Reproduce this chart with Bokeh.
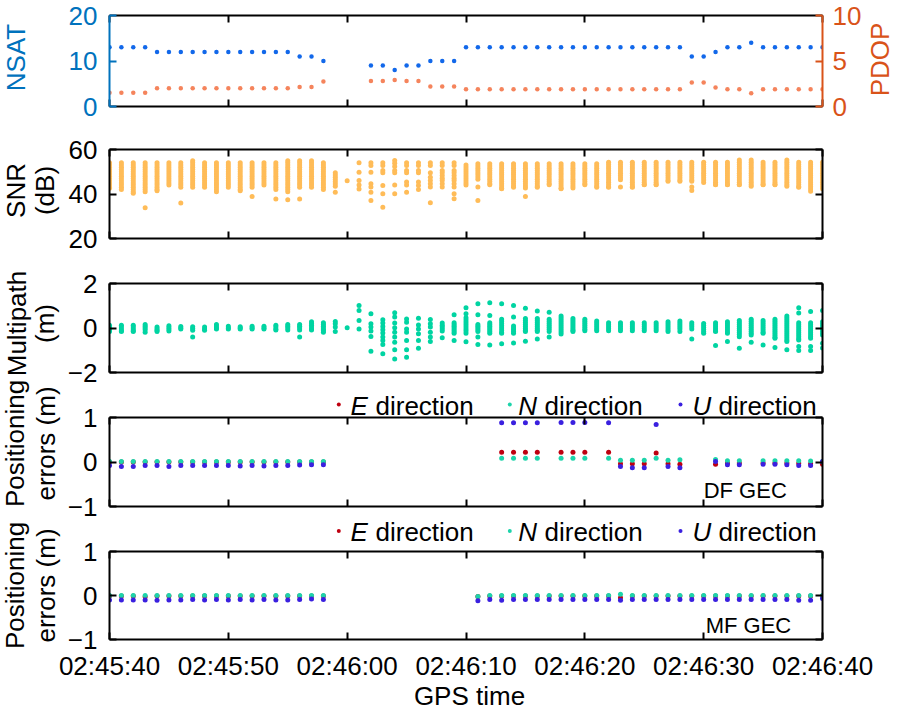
import math
from bokeh.plotting import figure
from bokeh.layouts import column
from bokeh.models import Range1d, LinearAxis, FixedTicker, Label, GridBox
from bokeh.core.properties import value
from bokeh.embed import file_html
from bokeh.resources import INLINE

FONT = "Liberation Sans"
BLUE_AX = "#0072BD"
ORANGE_AX = "#D95319"
NSAT_COLOR = "#1268EA"
PDOP_COLOR = "#F5845C"
SNR_COLOR = "#FFBC58"
MP_COLOR = "#00D4A2"
E_COLOR = "#BF0010"
N_COLOR = "#1DD4AA"
U_COLOR = "#3A20DF"

# ---------------- data ----------------
X_TICKS = [0, 10, 20, 30, 40, 50, 60]   # seconds after 02:45:40
X_TICK_LABELS = ["02:45:40", "02:45:50", "02:46:00", "02:46:10",
                 "02:46:20", "02:46:30", "02:46:40"]

NSAT_TICKS = [0, 10, 20]
PDOP_TICKS = [0, 5, 10]
SNR_TICKS = [20, 40, 60]
MP_TICKS = [-2, 0, 2]
MP_TICK_LABELS = ["\u22122", "0", "2"]
POS_TICKS = [-1, 0, 1]
POS_TICK_LABELS = ["\u22121", "0", "1"]

NSAT_T = [0, 1, 2, 3, 4, 5, 6, 7, 8, 9, 10, 11, 12, 13, 14, 15, 16, 17, 18,
          22, 23, 24, 25, 26, 27, 28, 29, 30, 31, 32, 33, 34, 35, 36, 37, 38,
          39, 40, 41, 42, 43, 44, 45, 46, 47, 48, 49, 50, 51, 52, 53, 54, 55,
          56, 57, 58, 59, 60]
NSAT = [13, 13, 13, 13, 12, 12, 12, 12, 12, 12, 12, 12, 12, 12, 12, 12, 11, 11, 10,
        9, 9, 8, 9, 9, 10, 10, 10, 13, 13, 13, 13, 13, 13, 13, 13, 13,
        13, 13, 13, 13, 13, 13, 13, 13, 13, 13, 11, 11, 12, 13, 13, 14, 13,
        13, 13, 13, 13, 13]
PDOP = [1.5, 1.5, 1.5, 1.5, 2.0, 2.0, 2.0, 2.0, 2.0, 2.0, 2.0, 2.0, 2.0, 2.0, 2.0, 2.0, 2.15, 2.15, 2.75,
        2.8, 2.8, 2.9, 2.8, 2.8, 2.2, 2.2, 2.2, 1.9, 1.9, 1.9, 1.9, 1.9, 1.9, 1.9, 1.9, 1.9,
        1.9, 1.9, 1.9, 1.9, 1.9, 1.9, 1.9, 1.9, 1.9, 1.9, 2.65, 2.65, 2.1, 1.9, 1.9, 1.45, 1.9,
        1.9, 1.9, 1.9, 1.9, 1.9]

EPOCH_T = [0, 1, 2, 3, 4, 5, 6, 7, 8, 9, 10, 11, 12, 13, 14, 15, 16, 17, 18, 19, 20,
           21, 22, 23, 24, 25, 26, 27, 28, 29, 30, 31, 32, 33, 34, 35, 36, 37, 38, 39, 40,
           41, 42, 43, 44, 45, 46, 47, 48, 49, 50, 51, 52, 53, 54, 55, 56, 57, 58, 59, 60]

# SNR (dB) of all tracked signals, one string per epoch
SNR_DB = [
    "54 53 52 51 50 49 48 47 46 45 44 43 42.6",
    "54 53 52 51 50 49 48 47 46 45 44 43 42",
    "54 53 52 51 50 49 48 47 46 45 44 43 42 41 40.3",
    "54 53 52 51 50 49 48 47 46 45 44 43 42 41 33.8",
    "54 53 52 51 50 49 48 47 46 45 44 43 42 41.5",
    "54 53 52 51 50 49 48 47 46 45 44",
    "54 53 52 51 50 49 48 47 46 45 44 43 35.9",
    "55 54 53 52 51 50 49 48 47 46 45 44 43",
    "54 53 52 51 50 49 48 47 46 45 44 43",
    "54 53 52 51 50 49 48 47 46 45 44 43 42 41",
    "54 53 52 51 50 49 48 47 46 45 44 43",
    "54 53 52 51 50 49 48 47 46 45 44 43 42 41.5",
    "54 53 52 51 50 49 48 47 46 45 44 43 38.9",
    "54 53 52 51 50 49 48 47 46 45 44",
    "54 53 52 51 50 49 48 47 46 45 44 43 42 37.8",
    "55 54 53 52 51 50 49 48 47 46 45 44 43 42 41 37.4",
    "55 54 53 52 51 50 49 48 47 46 45 44 43 37.8",
    "55 54 53 52 51 50 49 48 47 46 45 44 43",
    "54 53 52 51 50 49 48 47 46 45 44 43 42",
    "49.5 48.5 47.5 46.5 45.5 44.5 43.5 40.8",
    "45.9",
    "54.0 49.8 46.1 44.1 42.3",
    "54.0 52.8 49.8 44.6 43.1 40.8 37.1",
    "54.0 52.8 50.6 49.5 43.8 40.1 34.1",
    "55.1 53.8 52.4 50.6 49.5 44.1 40.1",
    "54.0 52.8 50.6 49.5 45.4 44.1 40.8",
    "54.0 52.8 50.6 49.5 45.4 43.8 42.0",
    "54.0 52.8 49.5 47.5 46.1 44.6 43.1 36.1",
    "54.0 52.8 50.6 49.5 48.3 47.1 46.1 44.6 43.1",
    "54.0 52.8 50.6 49.5 48.3 47.1 46.1 44.6 43.1 40.1 37.9",
    "53 52 51 50 49 48 47 46 45 44",
    "53.6 52.6 51.6 50.6 49.6 48.6 47.6 46.6 43.1 37.1",
    "53.6 52.6 51.6 50.6 49.6 48.6 47.6 46.6 45.6 44.6 44.2",
    "53.6 52.6 51.6 50.6 49.6 48.6 47.6 46.6 45.6 44.6 43.6 42.6 42.4",
    "53.6 52.6 51.6 50.6 49.6 48.6 47.6 46.6 45.6 44.6 43.6 43.0",
    "53.6 52.6 51.6 50.6 49.6 48.6 47.6 46.6 45.6 44.6 43.6 42.7 38.9",
    "53.6 52.6 51.6 50.6 49.6 48.6 47.6 46.6 45.6 44.6 43.6 43.0",
    "53.6 52.6 51.6 50.6 49.6 48.6 47.6 46.6 45.6 44.6 44.2",
    "53.6 52.6 51.6 50.6 49.6 48.6 47.6 46.6 45.6 44.6 43.6 42.6 42.4",
    "53.6 52.6 51.6 50.6 49.6 48.6 47.6 46.6 45.6 44.6 43.6 42.7",
    "53.6 52.6 51.6 50.6 49.6 48.6 47.6 46.6 45.6 44.6 44.2",
    "53.6 52.6 51.6 50.6 49.6 48.6 47.6 46.6 45.6 44.6 43.6 43.0",
    "54.3 53.3 52.3 51.3 50.3 49.3 48.3 47.3 46.3 45.3 44.3 43.3 43.0",
    "54.3 53.3 52.3 51.3 50.3 49.3 48.3 47.3 46.4 43.1",
    "54.3 53.3 52.3 51.3 50.3 49.3 48.3 47.3 46.3 45.3 44.3 43.3 43.0",
    "54.3 53.3 52.3 51.3 50.3 49.3 48.3 47.3 46.3 45.3 44.3 44.2",
    "54.3 53.3 52.3 51.3 50.3 49.3 48.3 47.3 46.3 45.3 44.3 44.2",
    "54.3 53.3 52.3 51.3 50.3 49.3 48.3 47.3 46.3 45.7",
    "54.3 53.3 52.3 51.3 50.3 49.3 48.3 47.3 46.3 45.7",
    "54.3 53.3 52.3 51.3 50.3 49.3 48.3 47.3 46.3 45.7 43.1 41.6",
    "54.3 53.3 52.3 51.3 50.3 49.3 48.3 47.3 46.3 45.2",
    "54.3 53.3 52.3 51.3 50.3 49.3 48.3 47.3 46.3 45.3 44.3 44.2",
    "54.3 53.3 52.3 51.3 50.3 49.3 48.3 47.3 46.3 45.3 44.3 44.2",
    "55.3 54.3 53.3 52.3 51.3 50.3 49.3 48.3 47.3 46.3 45.3 44.3 44.2",
    "55.3 54.3 53.3 52.3 51.3 50.3 49.3 48.3 47.3 46.3 45.3 44.3 43.5",
    "54.3 53.3 52.3 51.3 50.3 49.3 48.3 47.3 46.3 45.3 44.3 44.2",
    "54.3 53.3 52.3 51.3 50.3 49.3 48.3 47.3 46.3 45.3 44.3 44.2",
    "55.3 54.3 53.3 52.3 51.3 50.3 49.3 48.3 47.3 46.3 45.3 44.3 43.5",
    "54.3 53.3 52.3 51.3 50.3 49.3 48.3 47.3 46.3 45.3 44.3 43.3 43.0",
    "54.3 53.3 52.3 51.3 50.3 49.3 48.3 47.3 46.3 45.3 44.3 43.3 42.3 41.2",
    "54.3 53.3 52.3 51.3 50.3 49.3 48.3 47.3 46.3 45.3 44.3 43.3 42.4",
]

# Multipath (m) of all tracked signals, one string per epoch
MP_M = [
    "0.12 0.05 -0.02 -0.09 -0.16",
    "0.12 0.04 -0.04 -0.12 -0.16",
    "0.12 0.04 -0.04 -0.12 -0.16",
    "0.16 0.08 0.0 -0.08 -0.19",
    "0.05 -0.03 -0.1 -0.16",
    "0.1 0.02 -0.06 -0.14",
    "0.07 0.0 -0.05",
    "0.06 -0.02 -0.1 -0.41",
    "0.04 -0.04 -0.1",
    "0.16 0.08 0.0 -0.04",
    "0.08 0.0 -0.04",
    "0.06 0.0 -0.04",
    "0.08 0.0 -0.04",
    "0.08 0.0 -0.04",
    "0.12 0.04 -0.04 -0.09",
    "0.16 0.08 0.0 -0.09",
    "0.16 0.08 0.0 -0.09 -0.41",
    "0.28 0.2 0.12 0.04 -0.04 -0.09",
    "0.24 0.16 0.08 0.0 -0.08 -0.12 -0.19",
    "0.29 0.19 0.04 -0.16",
    "0.01",
    "1.01 0.79 0.34 -0.04",
    "0.64 0.19 0.04 -0.14 -0.38 -1.04",
    "0.37 0.22 0.07 -0.08 -0.23 -0.41 -0.56 -0.74 -1.16",
    "0.68 0.49 0.22 0.01 -0.19 -0.41 -0.64 -0.98 -1.39",
    "0.41 0.26 -0.04 -0.19 -0.56 -0.98 -1.31",
    "0.44 0.14 -0.04 -0.26 -0.56 -0.91",
    "0.38 0.19 0.04 -0.19 -0.41 -0.61",
    "0.22 0.12 0.04 -0.05 -0.14 -0.44",
    "0.59 0.24 0.16 0.08 0.0 -0.08 -0.16 -0.24 -0.56",
    "0.91 0.64 0.46 0.36 0.26 0.16 0.06 -0.04 -0.14 -0.24 -0.62",
    "1.09 0.59 0.16 0.08 0.0 -0.08 -0.16 -0.41 -0.74",
    "1.13 0.56 0.24 0.16 0.08 0.0 -0.08 -0.16 -0.24 -0.76",
    "1.09 0.39 0.3 0.2 0.1 0.0 -0.1 -0.2 -0.24 -0.71",
    "1.01 0.49 0.09 0.0 -0.08 -0.16 -0.24 -0.67",
    "0.89 0.43 0.34 0.25 0.16 0.07 -0.02 -0.1 -0.16 -0.59",
    "0.76 0.43 0.34 0.25 0.16 0.07 -0.02 -0.1 -0.16 -0.49",
    "0.71 0.39 0.3 0.21 0.12 0.03 -0.06 -0.16 -0.41",
    "0.54 0.45 0.36 0.27 0.18 0.09 0.0 -0.09 -0.18 -0.27",
    "0.43 0.34 0.25 0.16 0.07 -0.02 -0.1 -0.16",
    "0.39 0.3 0.21 0.12 0.03 -0.06 -0.12",
    "0.31 0.22 0.13 0.04 -0.05 -0.12",
    "0.24 0.15 0.06 -0.03 -0.12",
    "0.24 0.15 0.06 -0.03 -0.12",
    "0.24 0.15 0.06 -0.03 -0.12",
    "0.24 0.15 0.06 -0.03 -0.12",
    "0.24 0.15 0.06 -0.03 -0.12",
    "0.28 0.19 0.1 0.01 -0.08 -0.16",
    "0.31 0.22 0.13 0.04 -0.05 -0.16",
    "0.24 0.15 0.06 -0.04 -0.49",
    "0.2 0.11 0.02 -0.07 -0.16 -0.24",
    "0.24 0.15 0.06 -0.03 -0.12 -0.16 -0.79",
    "0.28 0.19 0.1 0.01 -0.08 -0.17 -0.24 -0.61",
    "0.34 0.25 0.16 0.07 -0.02 -0.11 -0.2 -0.29 -0.39 -0.91",
    "0.39 0.3 0.21 0.12 0.03 -0.06 -0.15 -0.24 -0.31 -0.64",
    "0.34 0.25 0.16 0.07 -0.02 -0.11 -0.2 -0.24 -0.76",
    "0.39 0.3 0.21 0.12 0.03 -0.06 -0.15 -0.24 -0.33 -0.42 -0.46 -0.88",
    "0.54 0.45 0.36 0.27 0.18 0.09 0.0 -0.09 -0.18 -0.27 -0.36 -0.45 -0.54 -0.61 -0.98",
    "0.91 0.67 0.24 0.15 0.06 -0.03 -0.12 -0.21 -0.3 -0.39 -0.48 -0.54 -0.83 -1.01",
    "0.74 0.24 0.15 0.06 -0.03 -0.12 -0.21 -0.3 -0.39 -0.46 -0.83 -1.01",
    "0.79 0.28 0.19 0.1 0.01 -0.08 -0.17 -0.26 -0.31 -0.69 -0.9",
]

# Positioning errors, DF GEC
DF_T = [0, 1, 2, 3, 4, 5, 6, 7, 8, 9, 10, 11, 12, 13, 14, 15, 16, 17, 18,
        33, 34, 35, 36, 38, 39, 40, 42, 43, 44, 45, 46, 47, 48, 51, 52, 53,
        55, 56, 57, 58, 59, 60]
DF_E = [0.0, 0.0, 0.0, 0.0, 0.0, 0.0, 0.0, 0.0, 0.0, 0.0, 0.0, 0.0, 0.0, 0.0, 0.0, 0.0, 0.0, 0.0, 0.0,
        0.22, 0.22, 0.22, 0.22, 0.22, 0.22, 0.22, 0.22, -0.04, -0.04, -0.04, 0.20, -0.04, -0.05, -0.05, -0.02, -0.02,
        -0.02, -0.02, -0.02, -0.03, -0.04, -0.05]
DF_N = [0.01, 0.01, 0.01, 0.01, 0.01, 0.01, 0.01, 0.01, 0.01, 0.01, 0.01, 0.01, 0.01, 0.01, 0.01, 0.01, 0.01, 0.01, 0.01,
        0.085, 0.085, 0.085, 0.085, 0.085, 0.085, 0.085, 0.085, 0.04, 0.04, 0.04, 0.085, 0.04, 0.05, 0.055, 0.03, 0.03,
        0.03, 0.03, 0.03, 0.03, 0.025, 0.01]
DF_U = [-0.08, -0.10, -0.10, -0.08, -0.08, -0.10, -0.08, -0.08, -0.08, -0.08, -0.08, -0.09, -0.08, -0.09, -0.08, -0.08, -0.07, -0.06, -0.06,
        0.88, 0.88, 0.88, 0.88, 0.89, 0.89, 0.89, 0.88, -0.10, -0.13, -0.13, 0.84, -0.10, -0.13, 0.01, -0.06, -0.06,
        -0.05, -0.05, -0.06, -0.08, -0.08, 0.01]

# Positioning errors, MF GEC
MF_T = [0, 1, 2, 3, 4, 5, 6, 7, 8, 9, 10, 11, 12, 13, 14, 15, 16, 17, 18,
        31, 32, 33, 34, 35, 36, 37, 38, 39, 40, 41, 42, 43, 44, 45, 46, 47, 48,
        49, 50, 51, 52, 53, 54, 55, 56, 57, 58, 59, 60]
MF_E = [-0.01, -0.01, -0.01, -0.03, -0.01, -0.01, -0.01, -0.01, -0.01, -0.01, -0.01, -0.01, -0.01, -0.01, -0.01, -0.01, -0.01, -0.01, -0.01,
        -0.02, -0.01, -0.01, -0.01, -0.01, -0.01, -0.01, -0.01, -0.01, -0.01, -0.01, -0.01, -0.05, -0.01, -0.01, -0.01, -0.01, -0.01,
        -0.01, -0.01, -0.01, -0.01, -0.01, -0.01, -0.01, -0.01, -0.01, -0.01, -0.01, -0.01]
MF_N = [0.0, 0.0, 0.0, 0.0, 0.0, 0.0, 0.0, 0.0, 0.0, 0.0, 0.0, 0.0, 0.0, 0.0, 0.0, 0.0, 0.0, 0.0, 0.0,
        -0.02, 0.0, 0.0, 0.0, 0.0, 0.0, 0.0, 0.0, 0.0, 0.0, 0.0, 0.0, 0.03, 0.0, 0.0, 0.0, 0.0, 0.0,
        0.0, 0.0, 0.0, 0.0, 0.0, 0.0, 0.0, 0.0, 0.0, 0.0, 0.0, 0.0]
MF_U = [-0.10, -0.10, -0.10, -0.10, -0.11, -0.10, -0.10, -0.09, -0.10, -0.09, -0.10, -0.09, -0.10, -0.09, -0.10, -0.10, -0.09, -0.08, -0.09,
        -0.12, -0.09, -0.11, -0.09, -0.09, -0.09, -0.09, -0.09, -0.09, -0.09, -0.09, -0.09, -0.11, -0.09, -0.09, -0.09, -0.09, -0.09,
        -0.09, -0.09, -0.09, -0.09, -0.09, -0.09, -0.09, -0.09, -0.09, -0.11, -0.11, -0.07]

LEGEND_NAMES = ["E", "N", "U"]
LEGEND_COLORS = [E_COLOR, N_COLOR, U_COLOR]

# ---------------- layout helpers ----------------
W, H = 898, 716
FRAME_W = 713
LEFT, RIGHT = 109, 76
FS = "26px"


def flatten(times, strings):
    xs, ys = [], []
    for t, s in zip(times, strings):
        for v in s.split():
            xs.append(t)
            ys.append(float(v))
    return xs, ys


def style_axis(ax, ticks, labels=None, color="black", show=True, standoff=12):
    ax.ticker = FixedTicker(ticks=ticks)
    if labels is not None:
        ax.major_label_overrides = {t: s for t, s in zip(ticks, labels)}
    ax.major_tick_in = 7
    ax.major_tick_out = 0
    ax.minor_tick_line_color = None
    ax.axis_line_color = color
    ax.axis_line_width = 2
    ax.major_tick_line_color = color
    ax.major_tick_line_width = 2
    ax.major_label_text_font = FONT
    if show:
        ax.major_label_text_color = color
        ax.major_label_text_font_size = FS
        ax.major_label_standoff = standoff
    else:
        ax.major_label_text_color = None
        ax.major_label_text_font_size = "1px"
        ax.major_label_standoff = 0


def make_panel(y0, y1, yticks, ylabels, fh, top, bottom, show_x=False, left_color="black",
               mirror_right=True):
    p = figure(frame_width=FRAME_W, frame_height=fh,
               x_range=Range1d(0, 60), y_range=Range1d(y0, y1),
               min_border_left=LEFT, min_border_right=RIGHT,
               min_border_top=top, min_border_bottom=bottom,
               output_backend="svg", toolbar_location=None, tools="")
    p.grid.visible = False
    p.outline_line_color = None
    style_axis(p.xaxis[0], X_TICKS, X_TICK_LABELS, show=show_x, standoff=11)
    style_axis(p.yaxis[0], yticks, ylabels, color=left_color, standoff=12)
    top_ax = LinearAxis()
    style_axis(top_ax, X_TICKS, show=False)
    p.add_layout(top_ax, "above")
    if mirror_right:
        r_ax = LinearAxis()
        style_axis(r_ax, yticks, show=False)
        p.add_layout(r_ax, "right")
    return p


def corner_label(p, text, x, y_off):
    p.add_layout(Label(x=x, y=-1, y_offset=y_off, text=text, text_baseline="middle",
                       text_font=FONT, text_font_size="22px", text_color="black"))


# ---------------- panel 1: NSAT / PDOP ----------------
p1 = make_panel(0, 20, NSAT_TICKS, None, 91, 15, 21, left_color=BLUE_AX, mirror_right=False)
p1.extra_y_ranges = {"pdop": Range1d(0, 10)}
pd_ax = LinearAxis(y_range_name="pdop")
style_axis(pd_ax, PDOP_TICKS, color=ORANGE_AX, standoff=10)
p1.add_layout(pd_ax, "right")
p1.scatter(NSAT_T, NSAT, size=4.5, color=NSAT_COLOR, line_width=0)
p1.scatter(NSAT_T, PDOP, size=4.5, color=PDOP_COLOR, line_width=0, y_range_name="pdop")

# ---------------- panel 2: SNR ----------------
p2 = make_panel(20, 60, SNR_TICKS, None, 89, 22, 22)
sx, sy = flatten(EPOCH_T, SNR_DB)
p2.scatter(sx, sy, size=5, color=SNR_COLOR, line_width=0)

# ---------------- panel 3: Multipath ----------------
p3 = make_panel(-2, 2, MP_TICKS, MP_TICK_LABELS, 89, 23, 22)
mx, my = flatten(EPOCH_T, MP_M)
p3.scatter(mx, my, size=5, color=MP_COLOR, line_width=0)

# ---------------- panel 4: DF GEC ----------------
p4 = make_panel(-1, 1, POS_TICKS, POS_TICK_LABELS, 89, 23, 22)
p4.scatter(DF_T, DF_E, size=5, color=E_COLOR, line_width=0)
p4.scatter(DF_T, DF_N, size=5, color=N_COLOR, line_width=0)
p4.scatter(DF_T, DF_U, size=5, color=U_COLOR, line_width=0)
corner_label(p4, "DF GEC", 50.0, 16)

# ---------------- panel 5: MF GEC ----------------
p5 = make_panel(-1, 1, POS_TICKS, POS_TICK_LABELS, 88, 23, 77, show_x=True)
p5.scatter(MF_T, MF_E, size=5, color=E_COLOR, line_width=0)
p5.scatter(MF_T, MF_N, size=5, color=N_COLOR, line_width=0)
p5.scatter(MF_T, MF_U, size=5, color=U_COLOR, line_width=0)
corner_label(p5, "MF GEC", 50.17, 14)

panels = column(p1, p2, p3, p4, p5, spacing=0)

# ---------------- overlay for texts that sit outside the plot frames ----------------
ov = figure(width=W, height=H, x_range=Range1d(0, W), y_range=Range1d(H, 0),
            min_border=0, x_axis_type=None, y_axis_type=None,
            output_backend="svg", toolbar_location=None, tools="")
ov.grid.visible = False
ov.outline_line_color = None
ov.background_fill_color = None
ov.border_fill_color = None

# axis titles (page pixel positions)
ROT_TEXT = ["NSAT", "SNR", "(dB)", "Multipath", "(m)", "Positioning", "errors (m)",
            "Positioning", "errors (m)", "PDOP"]
ROT_X = [15.5, 15, 44, 16, 44.5, 14, 45, 14, 45, 879]
ROT_Y = [57, 190, 190, 323, 323, 443, 443, 585, 585, 59]
ROT_C = [BLUE_AX, "black", "black", "black", "black", "black", "black", "black", "black", ORANGE_AX]
ov.text(x=ROT_X, y=ROT_Y, text=ROT_TEXT, angle=math.pi / 2, text_color=ROT_C,
        text_align="center", text_baseline="middle",
        text_font=value(FONT), text_font_size=value(FS))
ov.text(x=[469], y=[695], text=["GPS time"], text_align="center", text_baseline="middle",
        text_font=value(FONT), text_font_size=value(FS), text_color="black")

# legends above panels 4 and 5
for yc in (405, 531.5):
    ov.scatter([338.3, 509.3, 680.0], [yc - 1] * 3, size=4, color=LEGEND_COLORS, line_width=0)
    ov.text(x=[350, 517.7, 692], y=[yc] * 3, text=LEGEND_NAMES, text_baseline="middle",
            text_font=value(FONT), text_font_size=value(FS), text_font_style="italic",
            text_color="black")
    ov.text(x=[375, 544, 718], y=[yc] * 3, text=["direction"] * 3, text_baseline="middle",
            text_font=value(FONT), text_font_size=value(FS), text_color="black")

layout = GridBox(children=[(panels, 0, 0), (ov, 0, 0)])
open("out.html", "w").write(file_html(layout, INLINE))
